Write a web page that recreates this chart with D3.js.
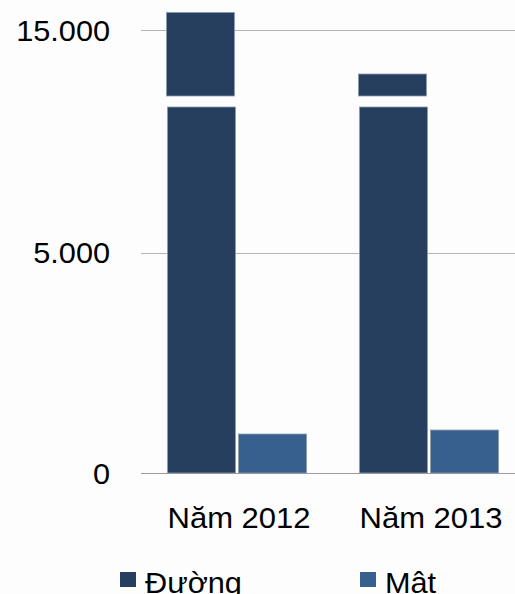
<!DOCTYPE html>
<html>
<head>
<meta charset="utf-8">
<script src="https://cdn.jsdelivr.net/npm/d3@7"></script>
<style>
  html, body { margin: 0; padding: 0; background: #fdfdfd; }
  svg { display: block; }
  text { font-family: "Liberation Sans", Arial, sans-serif; fill: #000; }
</style>
</head>
<body>
<svg id="chart" width="515" height="594"></svg>
<script>
// Categories and series (tấn)
const categories = ["Năm 2012", "Năm 2013"];
const seriesNames = ["Đường", "Mật"];
const duongValues = [15400, 14000];
const matValues = [886, 977];
const lowerTicks = [0, 5000];
const upperTicks = [15000];
const colors = ["#263f5f", "#37608f"];

const svg = d3.select("#chart");
const fmt = v => d3.format(",")(v).replace(/,/g, ".");

// Broken value axis: lower part 0..break, upper part from 13.500
const breakLow = 8318, breakHigh = 13500;
const yLow = d3.scaleLinear().domain([0, breakLow]).range([473, 107]);
const yHigh = d3.scaleLinear().domain([breakHigh, 15500]).range([96, 8]);

const x = d3.scaleBand().domain(categories).range([141, 525]).padding(0);
const xs = d3.scaleBand().domain(seriesNames).range([26, 166]).paddingInner(0.03);

const rows = categories.map((c, i) => ({ cat: c, values: [duongValues[i], matValues[i]] }));

// Gridlines
const gridLeft = 141, gridRight = 515;
svg.append("g").selectAll("line").data(lowerTicks.filter(t => t > 0))
  .join("line")
  .attr("x1", gridLeft).attr("x2", gridRight)
  .attr("y1", d => Math.round(yLow(d)) + 0.5).attr("y2", d => Math.round(yLow(d)) + 0.5)
  .attr("stroke", "#b4b4b4").attr("stroke-width", 1);
svg.append("g").selectAll("line").data(upperTicks)
  .join("line")
  .attr("x1", gridLeft).attr("x2", gridRight)
  .attr("y1", d => Math.round(yHigh(d)) + 0.5).attr("y2", d => Math.round(yHigh(d)) + 0.5)
  .attr("stroke", "#b4b4b4").attr("stroke-width", 1);

// Bars
const groups = svg.append("g").selectAll("g").data(rows).join("g")
  .attr("transform", d => `translate(${x(d.cat)},0)`);

groups.each(function (row) {
  const g = d3.select(this);
  row.values.forEach((v, si) => {
    const bx = xs(seriesNames[si]);
    const bw = xs.bandwidth();
    const lowTop = yLow(Math.min(v, breakLow));
    g.append("rect")
      .attr("x", bx + 0.5).attr("y", lowTop)
      .attr("width", bw - 1).attr("height", yLow(0) - lowTop)
      .attr("fill", colors[si]).attr("stroke", "#8b9bb0").attr("stroke-width", 0.8);
    if (v > breakHigh) {
      const hiTop = yHigh(v);
      g.append("rect")
        .attr("x", bx - 0.5).attr("y", hiTop)
        .attr("width", bw - 1).attr("height", yHigh(breakHigh) - hiTop)
        .attr("fill", colors[si]).attr("stroke", "#8b9bb0").attr("stroke-width", 0.8);
    }
  });
});

// Baseline
svg.append("line")
  .attr("x1", gridLeft).attr("x2", gridRight)
  .attr("y1", Math.round(yLow(0)) + 0.5).attr("y2", Math.round(yLow(0)) + 0.5)
  .attr("stroke", "#9a9a9a").attr("stroke-width", 1.2);

// Value labels
const stretch = 1.04;
const yLabel = (val, yPos) => {
  svg.append("text")
    .attr("transform", `translate(110,${yPos + 10.5}) scale(${stretch},1)`)
    .attr("text-anchor", "end")
    .attr("font-size", 29.5)
    .text(fmt(val));
};
lowerTicks.forEach(t => yLabel(t, yLow(t)));
upperTicks.forEach(t => yLabel(t, yHigh(t)));

// Category labels
svg.append("g").selectAll("text").data(categories).join("text")
  .attr("transform", d => `translate(${x(d) + 26 + 70 + 2},527.5) scale(${stretch + 0.01},1)`)
  .attr("text-anchor", "middle")
  .attr("font-size", 29.5)
  .text(d => d);

// Legend
const legendX = [120, 360];
const legend = svg.append("g").selectAll("g").data(seriesNames).join("g")
  .attr("transform", (d, i) => `translate(${legendX[i]},0)`);
legend.append("rect")
  .attr("x", 0).attr("y", 572).attr("width", 16).attr("height", 15)
  .attr("fill", (d, i) => colors[i]);
legend.append("text")
  .attr("transform", `translate(25,592.5) scale(${stretch},1)`)
  .attr("font-size", 29.5)
  .text(d => d);
</script>
</body>
</html>
